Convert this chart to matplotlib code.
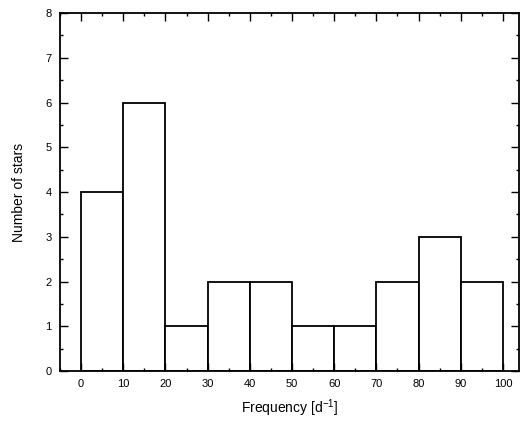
import matplotlib
matplotlib.use("Agg")
import matplotlib.pyplot as plt
from matplotlib.ticker import MultipleLocator

plt.rcParams["font.family"] = ["Liberation Sans", "DejaVu Sans"]

# histogram bins (edges) and counts per bin
bin_edges = [0, 10, 20, 30, 40, 50, 60, 70, 80, 90, 100]
counts = [4, 6, 1, 2, 2, 1, 1, 2, 3, 2]

fig = plt.figure(figsize=(5.2, 4.21), dpi=100)
ax = fig.add_axes([0.1154, 0.1188, 0.8826, 0.8502])

ax.bar(bin_edges[:-1], counts, width=10, align="edge",
       facecolor="white", edgecolor="black", linewidth=1.3)

ax.set_xlim(-5, 103.8)
ax.set_ylim(0, 8)
ax.xaxis.set_major_locator(MultipleLocator(10))
ax.xaxis.set_minor_locator(MultipleLocator(5))
ax.yaxis.set_major_locator(MultipleLocator(1))
ax.yaxis.set_minor_locator(MultipleLocator(0.5))

ax.tick_params(which="both", direction="in", top=True, right=True,
               width=1.0, labelsize=8, colors="black")
ax.tick_params(which="major", length=6, pad=6)
ax.tick_params(which="minor", length=2.5)

for spine in ax.spines.values():
    spine.set_linewidth(1.3)

ax.set_xlabel("Frequency [d$^{\\mathregular{-1}}$]", fontsize=10, labelpad=6)
ax.set_ylabel("Number of stars", fontsize=10, labelpad=14)

fig.savefig("out.png", dpi=100)
